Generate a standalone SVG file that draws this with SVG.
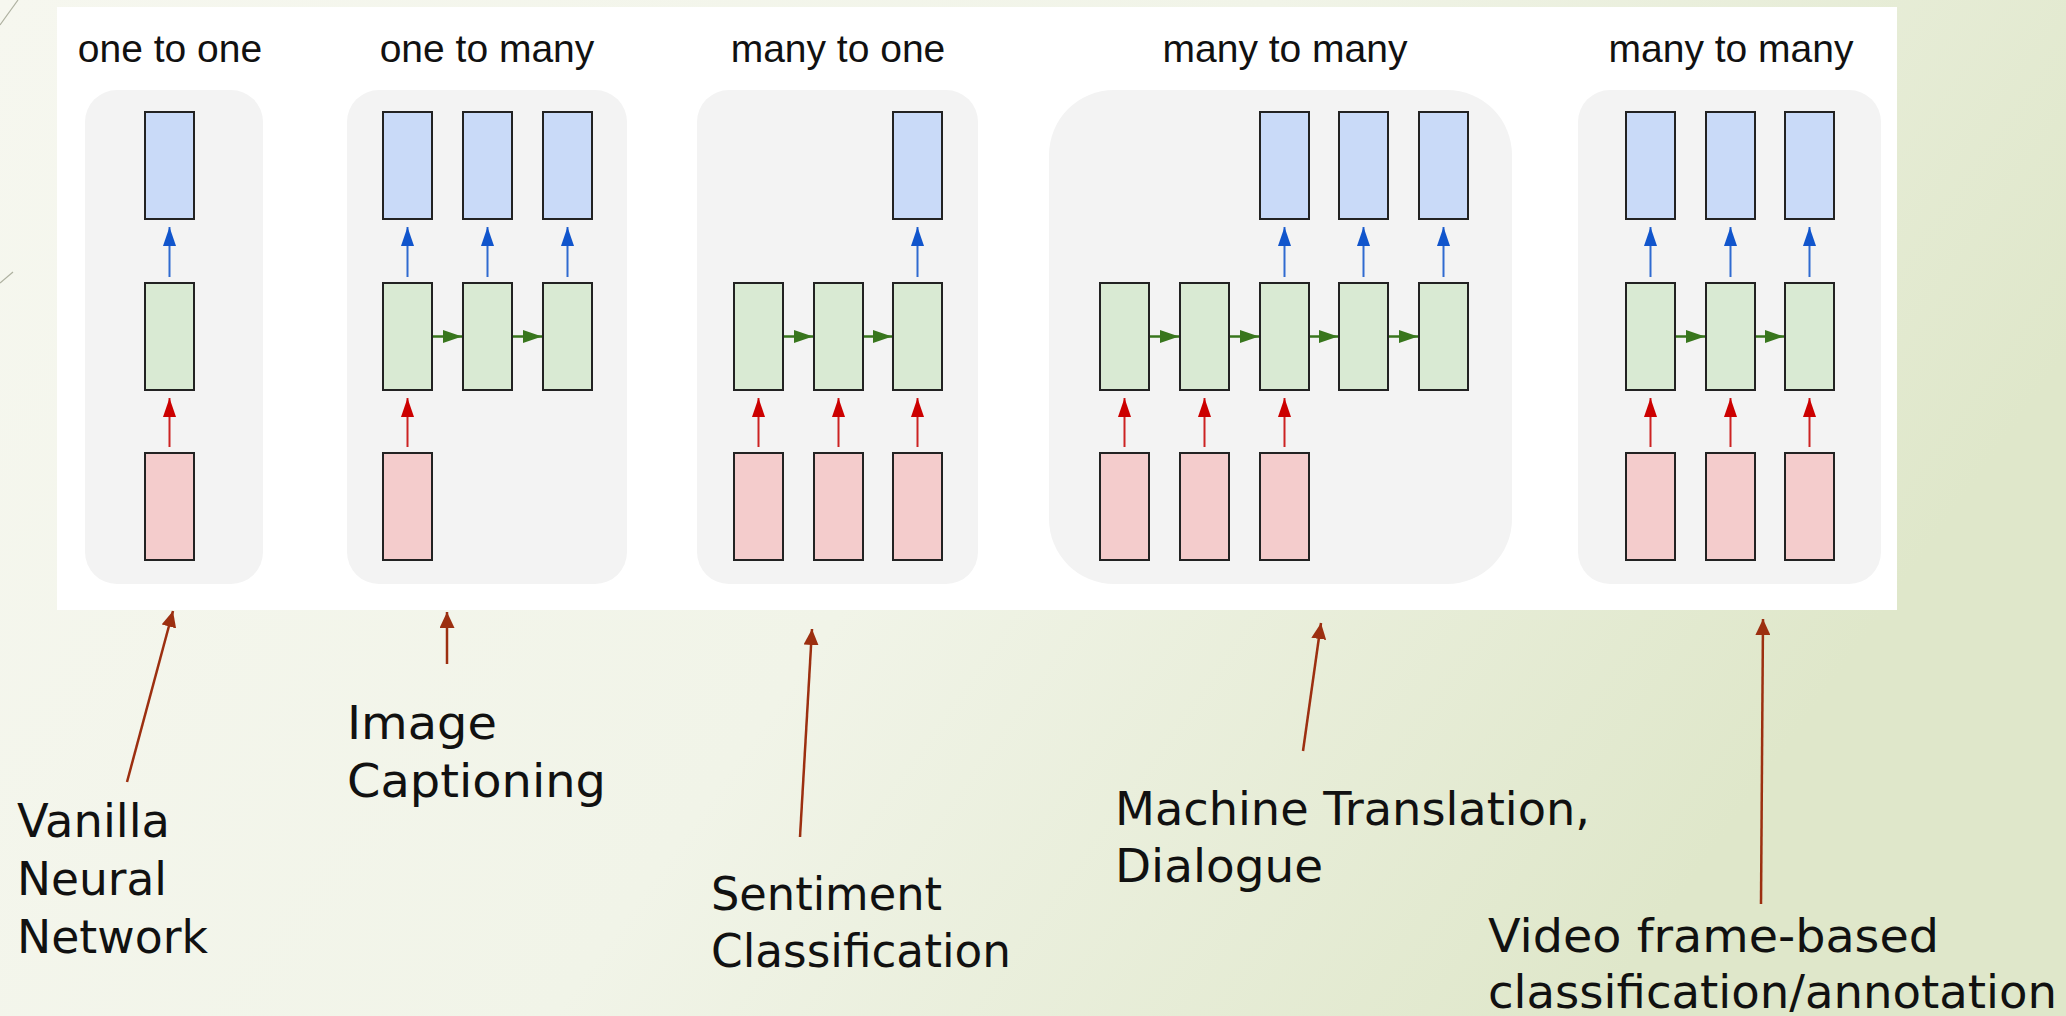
<svg xmlns="http://www.w3.org/2000/svg" width="2066" height="1016" viewBox="0 0 2066 1016">
<defs>
<linearGradient id="bg" x1="0" y1="0" x2="1" y2="0.35">
<stop offset="0" stop-color="#f6f7ef"/>
<stop offset="0.55" stop-color="#f1f4e8"/>
<stop offset="1" stop-color="#dfe7ca"/>
</linearGradient>
<marker id="mb" markerUnits="userSpaceOnUse" markerWidth="19" markerHeight="13" refX="19" refY="6.5" orient="auto"><path d="M0,0 L19,6.5 L0,13 z" fill="#1155cc"/></marker>
<marker id="mr" markerUnits="userSpaceOnUse" markerWidth="19" markerHeight="13" refX="19" refY="6.5" orient="auto"><path d="M0,0 L19,6.5 L0,13 z" fill="#cc0000"/></marker>
<marker id="mg" markerUnits="userSpaceOnUse" markerWidth="19" markerHeight="13" refX="19" refY="6.5" orient="auto"><path d="M0,0 L19,6.5 L0,13 z" fill="#38761d"/></marker>
<marker id="ma" markerUnits="userSpaceOnUse" markerWidth="16" markerHeight="15" refX="16" refY="7.5" orient="auto"><path d="M0,0 L16,7.5 L0,15 z" fill="#9c2f10"/></marker>
</defs>
<style>
.panel{fill:#f3f3f3}
.bx{stroke:#222;stroke-width:2}
.o{fill:#c9daf8}
.h{fill:#d9ead3}
.i{fill:#f4cccc}
.title{font-family:"Liberation Sans",Arial,sans-serif;font-size:39px;fill:#111;text-anchor:middle}
.lbl{font-family:"DejaVu Sans","Liberation Sans",sans-serif;font-size:46px;fill:#111}
.ab{stroke:#2f6ad0;stroke-width:2;fill:none;marker-end:url(#mb)}
.ar{stroke:#cc2222;stroke-width:2;fill:none;marker-end:url(#mr)}
.ag{stroke:#38761d;stroke-width:2.5;fill:none;marker-end:url(#mg)}
.aa{stroke:#9c2f10;stroke-width:2.5;fill:none;marker-end:url(#ma)}
.deco{stroke:#aeb1a0;stroke-width:1.2;fill:none}
</style>
<rect x="0" y="0" width="2066" height="1016" fill="url(#bg)"/>
<line class="deco" x1="0" y1="25" x2="18" y2="0"/>
<line class="deco" x1="0" y1="283" x2="13" y2="272"/>
<rect x="57" y="7" width="1840" height="603" fill="#ffffff"/>

<g id="one-to-one">
<rect class="panel" x="85" y="90" width="178" height="494" rx="32"/>
<text class="title" x="170" y="62">one to one</text>
<g id="p1-out1"><rect class="bx o" x="145" y="112" width="49" height="107"/></g>
<g id="p1-hid1"><rect class="bx h" x="145" y="283" width="49" height="107"/></g>
<g id="p1-in1"><rect class="bx i" x="145" y="453" width="49" height="107"/></g>
</g>

<g id="one-to-many">
<rect class="panel" x="347" y="90" width="280" height="494" rx="32"/>
<text class="title" x="487" y="62">one to many</text>
<g id="p2-out1"><rect class="bx o" x="383" y="112" width="49" height="107"/></g>
<g id="p2-out2"><rect class="bx o" x="463" y="112" width="49" height="107"/></g>
<g id="p2-out3"><rect class="bx o" x="543" y="112" width="49" height="107"/></g>
<g id="p2-hid1"><rect class="bx h" x="383" y="283" width="49" height="107"/></g>
<g id="p2-hid2"><rect class="bx h" x="463" y="283" width="49" height="107"/></g>
<g id="p2-hid3"><rect class="bx h" x="543" y="283" width="49" height="107"/></g>
<g id="p2-in1"><rect class="bx i" x="383" y="453" width="49" height="107"/></g>
</g>

<g id="many-to-one">
<rect class="panel" x="697" y="90" width="281" height="494" rx="32"/>
<text class="title" x="838" y="62">many to one</text>
<g id="p3-out1"><rect class="bx o" x="893" y="112" width="49" height="107"/></g>
<g id="p3-hid1"><rect class="bx h" x="734" y="283" width="49" height="107"/></g>
<g id="p3-hid2"><rect class="bx h" x="814" y="283" width="49" height="107"/></g>
<g id="p3-hid3"><rect class="bx h" x="893" y="283" width="49" height="107"/></g>
<g id="p3-in1"><rect class="bx i" x="734" y="453" width="49" height="107"/></g>
<g id="p3-in2"><rect class="bx i" x="814" y="453" width="49" height="107"/></g>
<g id="p3-in3"><rect class="bx i" x="893" y="453" width="49" height="107"/></g>
</g>

<g id="many-to-many-seq">
<rect class="panel" x="1049" y="90" width="463" height="494" rx="65"/>
<text class="title" x="1285" y="62">many to many</text>
<g id="p4-out1"><rect class="bx o" x="1260" y="112" width="49" height="107"/></g>
<g id="p4-out2"><rect class="bx o" x="1339" y="112" width="49" height="107"/></g>
<g id="p4-out3"><rect class="bx o" x="1419" y="112" width="49" height="107"/></g>
<g id="p4-hid1"><rect class="bx h" x="1100" y="283" width="49" height="107"/></g>
<g id="p4-hid2"><rect class="bx h" x="1180" y="283" width="49" height="107"/></g>
<g id="p4-hid3"><rect class="bx h" x="1260" y="283" width="49" height="107"/></g>
<g id="p4-hid4"><rect class="bx h" x="1339" y="283" width="49" height="107"/></g>
<g id="p4-hid5"><rect class="bx h" x="1419" y="283" width="49" height="107"/></g>
<g id="p4-in1"><rect class="bx i" x="1100" y="453" width="49" height="107"/></g>
<g id="p4-in2"><rect class="bx i" x="1180" y="453" width="49" height="107"/></g>
<g id="p4-in3"><rect class="bx i" x="1260" y="453" width="49" height="107"/></g>
</g>

<g id="many-to-many-sync">
<rect class="panel" x="1578" y="90" width="303" height="494" rx="32"/>
<text class="title" x="1731" y="62">many to many</text>
<g id="p5-out1"><rect class="bx o" x="1626" y="112" width="49" height="107"/></g>
<g id="p5-out2"><rect class="bx o" x="1706" y="112" width="49" height="107"/></g>
<g id="p5-out3"><rect class="bx o" x="1785" y="112" width="49" height="107"/></g>
<g id="p5-hid1"><rect class="bx h" x="1626" y="283" width="49" height="107"/></g>
<g id="p5-hid2"><rect class="bx h" x="1706" y="283" width="49" height="107"/></g>
<g id="p5-hid3"><rect class="bx h" x="1785" y="283" width="49" height="107"/></g>
<g id="p5-in1"><rect class="bx i" x="1626" y="453" width="49" height="107"/></g>
<g id="p5-in2"><rect class="bx i" x="1706" y="453" width="49" height="107"/></g>
<g id="p5-in3"><rect class="bx i" x="1785" y="453" width="49" height="107"/></g>
</g>

<g id="connectors">
<!-- blue: hidden to output -->
<line class="ab" x1="169.5" y1="277" x2="169.5" y2="227"/>
<line class="ab" x1="407.5" y1="277" x2="407.5" y2="227"/>
<line class="ab" x1="487.5" y1="277" x2="487.5" y2="227"/>
<line class="ab" x1="567.5" y1="277" x2="567.5" y2="227"/>
<line class="ab" x1="917.5" y1="277" x2="917.5" y2="227"/>
<line class="ab" x1="1284.5" y1="277" x2="1284.5" y2="227"/>
<line class="ab" x1="1363.5" y1="277" x2="1363.5" y2="227"/>
<line class="ab" x1="1443.5" y1="277" x2="1443.5" y2="227"/>
<line class="ab" x1="1650.5" y1="277" x2="1650.5" y2="227"/>
<line class="ab" x1="1730.5" y1="277" x2="1730.5" y2="227"/>
<line class="ab" x1="1809.5" y1="277" x2="1809.5" y2="227"/>
<!-- red: input to hidden -->
<line class="ar" x1="169.5" y1="447" x2="169.5" y2="398"/>
<line class="ar" x1="407.5" y1="447" x2="407.5" y2="398"/>
<line class="ar" x1="758.5" y1="447" x2="758.5" y2="398"/>
<line class="ar" x1="838.5" y1="447" x2="838.5" y2="398"/>
<line class="ar" x1="917.5" y1="447" x2="917.5" y2="398"/>
<line class="ar" x1="1124.5" y1="447" x2="1124.5" y2="398"/>
<line class="ar" x1="1204.5" y1="447" x2="1204.5" y2="398"/>
<line class="ar" x1="1284.5" y1="447" x2="1284.5" y2="398"/>
<line class="ar" x1="1650.5" y1="447" x2="1650.5" y2="398"/>
<line class="ar" x1="1730.5" y1="447" x2="1730.5" y2="398"/>
<line class="ar" x1="1809.5" y1="447" x2="1809.5" y2="398"/>
<!-- green: hidden to hidden -->
<line class="ag" x1="433" y1="336.5" x2="462" y2="336.5"/>
<line class="ag" x1="513" y1="336.5" x2="542" y2="336.5"/>
<line class="ag" x1="784" y1="336.5" x2="813" y2="336.5"/>
<line class="ag" x1="864" y1="336.5" x2="892" y2="336.5"/>
<line class="ag" x1="1150" y1="336.5" x2="1179" y2="336.5"/>
<line class="ag" x1="1230" y1="336.5" x2="1259" y2="336.5"/>
<line class="ag" x1="1310" y1="336.5" x2="1338" y2="336.5"/>
<line class="ag" x1="1389" y1="336.5" x2="1418" y2="336.5"/>
<line class="ag" x1="1676" y1="336.5" x2="1705" y2="336.5"/>
<line class="ag" x1="1756" y1="336.5" x2="1784" y2="336.5"/>
<!-- annotation pointers -->
<line class="aa" x1="127" y1="782" x2="173" y2="611"/>
<line class="aa" x1="447" y1="664" x2="447" y2="612"/>
<line class="aa" x1="800" y1="837" x2="812" y2="629"/>
<line class="aa" x1="1303" y1="751" x2="1321" y2="623"/>
<line class="aa" x1="1761" y1="904" x2="1763" y2="619"/>
</g>

<g id="label-vanilla">
<text class="lbl" x="17" y="837" textLength="153" lengthAdjust="spacingAndGlyphs">Vanilla</text>
<text class="lbl" x="17" y="895" textLength="150" lengthAdjust="spacingAndGlyphs">Neural</text>
<text class="lbl" x="17" y="953" textLength="191" lengthAdjust="spacingAndGlyphs">Network</text>
</g>
<g id="label-captioning">
<text class="lbl" x="347" y="739" textLength="150" lengthAdjust="spacingAndGlyphs">Image</text>
<text class="lbl" x="347" y="797" textLength="259" lengthAdjust="spacingAndGlyphs">Captioning</text>
</g>
<g id="label-sentiment">
<text class="lbl" x="711" y="910" textLength="231" lengthAdjust="spacingAndGlyphs">Sentiment</text>
<text class="lbl" x="711" y="967" textLength="300" lengthAdjust="spacingAndGlyphs">Classification</text>
</g>
<g id="label-translation">
<text class="lbl" x="1115" y="825" textLength="475" lengthAdjust="spacingAndGlyphs">Machine Translation,</text>
<text class="lbl" x="1115" y="882" textLength="208" lengthAdjust="spacingAndGlyphs">Dialogue</text>
</g>
<g id="label-video">
<text class="lbl" x="1488" y="952" textLength="451" lengthAdjust="spacingAndGlyphs">Video frame-based</text>
<text class="lbl" x="1488" y="1008" textLength="569" lengthAdjust="spacingAndGlyphs">classification/annotation</text>
</g>
</svg>
